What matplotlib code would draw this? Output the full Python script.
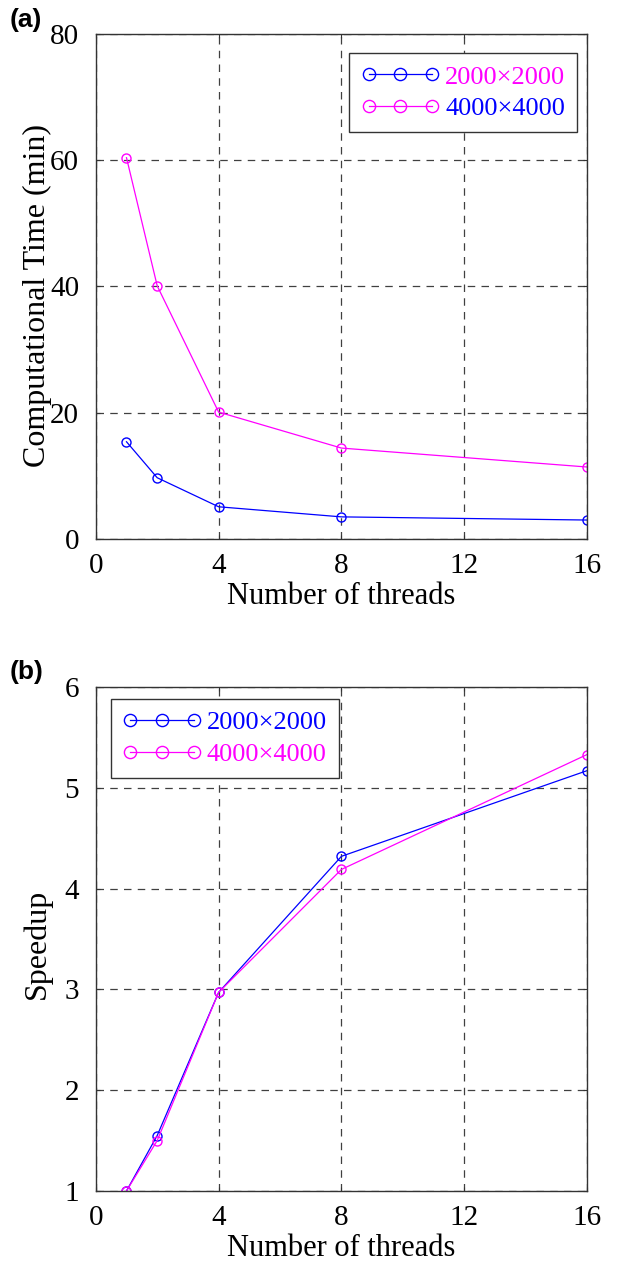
import matplotlib
matplotlib.use("Agg")
import matplotlib.pyplot as plt

threads = [1, 2, 4, 8, 16]
time_2000 = [15.4, 9.7, 5.1, 3.5, 3.0]
time_4000 = [60.4, 40.1, 20.1, 14.4, 11.4]
speedup_2000 = [1.0, 1.55, 2.97, 4.32, 5.17]
speedup_4000 = [1.0, 1.50, 2.97, 4.19, 5.33]
labels = ['2000\u00d72000', '4000\u00d74000']
x_ticks = [0, 4, 8, 12, 16]

plt.rcParams['font.family'] = ['Liberation Serif', 'DejaVu Serif']

fig = plt.figure(figsize=(6.18, 12.64), dpi=100)
ax1 = fig.add_axes([0.155, 0.5736, 0.795, 0.3995])
ax2 = fig.add_axes([0.155, 0.0578, 0.795, 0.3987])

def styl(ax, ylim, yticks, ylabel, ypos):
    ax.set_xlim(0, 16)
    ax.set_ylim(*ylim)
    ax.set_xticks(x_ticks)
    ax.set_yticks(yticks)
    ax.tick_params(direction='in', length=3, width=0.8, color='#333333',
                   labelsize=21, top=True, right=True)
    ax.tick_params(axis='x', pad=10)
    ax.tick_params(axis='y', pad=12)
    ax.grid(True, color='#404040', linestyle=(0, (6, 5)), linewidth=0.9)
    ax.set_axisbelow(True)
    for s in ax.spines.values():
        s.set_color('#333333')
        s.set_linewidth(1.0)
    ax.set_xlabel('Number of threads', fontsize=22, labelpad=2)
    ax.set_ylabel(ylabel, fontsize=23)
    ax.yaxis.set_label_coords(-0.09, ypos)

def rysuj(ax, y1, y2):
    ax.plot(threads, y1, color='#0000ff', marker='o', mfc='none', ms=6.5,
            lw=0.9, mew=1.0, label=labels[0])
    ax.plot(threads, y2, color='#ff00ff', marker='o', mfc='none', ms=6.5,
            lw=0.9, mew=1.0, label=labels[1])

def legenda(ax, loc, anchor, kolory):
    leg = ax.legend(loc=loc, bbox_to_anchor=anchor, numpoints=3,
                    fontsize=19, markerscale=1.35, handlelength=3.0,
                    handletextpad=0.2, fancybox=False, edgecolor='#333333',
                    framealpha=1, borderpad=0.45, labelspacing=0.3,
                    borderaxespad=0)
    leg.get_frame().set_linewidth(1.0)
    for t, k in zip(leg.get_texts(), kolory):
        t.set_color(k)
    return leg

rysuj(ax1, time_2000, time_4000)
styl(ax1, (0, 80), [0, 20, 40, 60, 80], 'Computational Time (min)', 0.483)
# kolory tekstu w legendzie (a) sa zamienione jak w oryginale
legenda(ax1, 'upper right', (0.98, 0.962), ['#ff00ff', '#0000ff'])

rysuj(ax2, speedup_2000, speedup_4000)
styl(ax2, (1, 6), [1, 2, 3, 4, 5, 6], 'Speedup', 0.49)
legenda(ax2, 'upper left', (0.03, 0.976), ['#0000ff', '#ff00ff'])

fig.text(0.016, 0.984, '(a)', fontsize=19, fontweight='bold',
         family=['Liberation Sans', 'DejaVu Sans'], va='center')
fig.text(0.016, 0.468, '(b)', fontsize=19, fontweight='bold',
         family=['Liberation Sans', 'DejaVu Sans'], va='center')

fig.savefig('out.png', dpi=100)
